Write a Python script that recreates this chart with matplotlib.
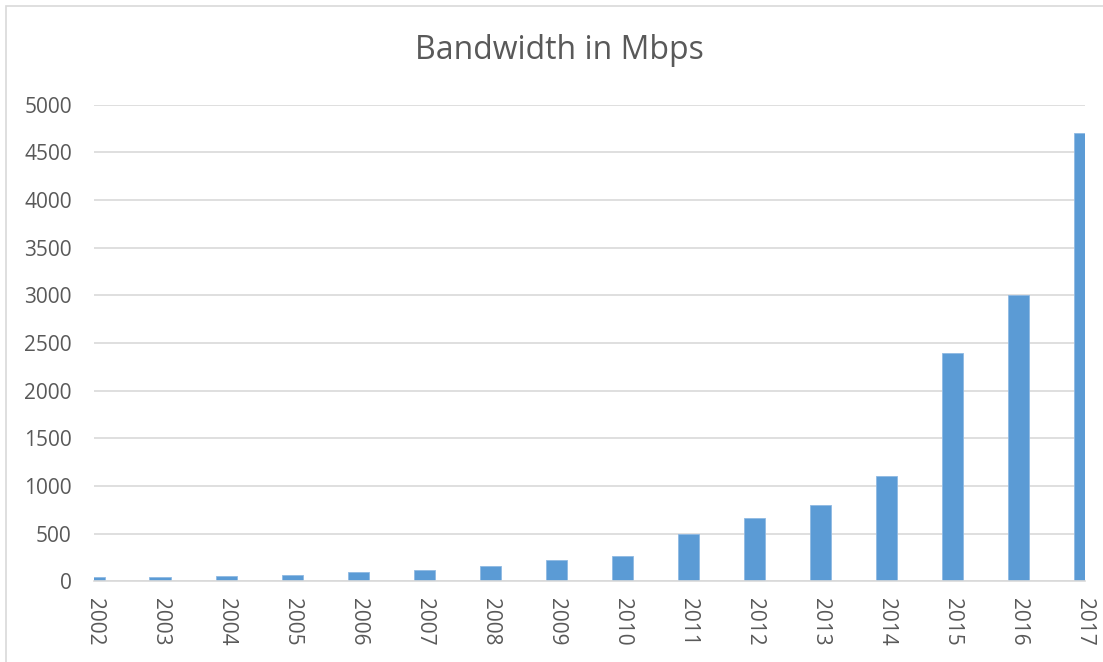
import numpy as np
import matplotlib
matplotlib.use("Agg")
import matplotlib.pyplot as plt
from matplotlib.patches import Rectangle

# bandwidth per year
years = ["2002", "2003", "2004", "2005", "2006", "2007", "2008", "2009",
         "2010", "2011", "2012", "2013", "2014", "2015", "2016", "2017"]
bandwidth = [40, 50, 60, 65, 95, 115, 165, 220,
             265, 500, 660, 800, 1100, 2400, 3000, 4700]
yticks = [0, 500, 1000, 1500, 2000, 2500, 3000, 3500, 4000, 4500, 5000]

plt.rcParams['font.family'] = ['Open Sans', 'DejaVu Sans']
textColor = '#595959'
gridColor = '#d9d9d9'
barColor = '#5b9bd5'

W, H = 1103, 662
fig = plt.figure(figsize=(W / 100, H / 100), dpi=100)
ax = fig.add_axes([94 / W, 1 - 581.3 / H, (1084.5 - 94) / W, (581.3 - 104.7) / H])

x = np.arange(len(years))
ax.bar(x, bandwidth, width=0.32, color=barColor, edgecolor='#8fb9e3',
       linewidth=0.6, zorder=3)

ax.set_xlim(0, len(years) - 1)
ax.set_ylim(0, 5000)
ax.set_yticks(yticks)
ax.set_xticks(x)
ax.set_xticklabels(years, rotation=-90, ha='center', va='top')
ax.tick_params(axis='both', length=0, labelsize=15, labelcolor=textColor)
ax.tick_params(axis='y', pad=16)
ax.tick_params(axis='x', pad=12)

ax.grid(axis='y', color=gridColor, linewidth=1.2, zorder=0)
for side in ['top', 'right', 'left']:
    ax.spines[side].set_visible(False)
ax.spines['bottom'].set_color(gridColor)
ax.spines['bottom'].set_linewidth(1.2)
ax.spines['bottom'].set_zorder(4)
ax.set_axisbelow(True)

fig.text(559 / W, 1 - 59.3 / H, "Bandwidth in Mbps", ha='center',
         va='baseline', fontsize=23, color=textColor)

# chart frame
fig.patches.append(Rectangle((5.7 / W, -0.05), 1.2, 1.05 - 5.5 / H,
                             transform=fig.transFigure, fill=False,
                             edgecolor=gridColor, linewidth=1.2))

fig.savefig('out.png', dpi=100)
